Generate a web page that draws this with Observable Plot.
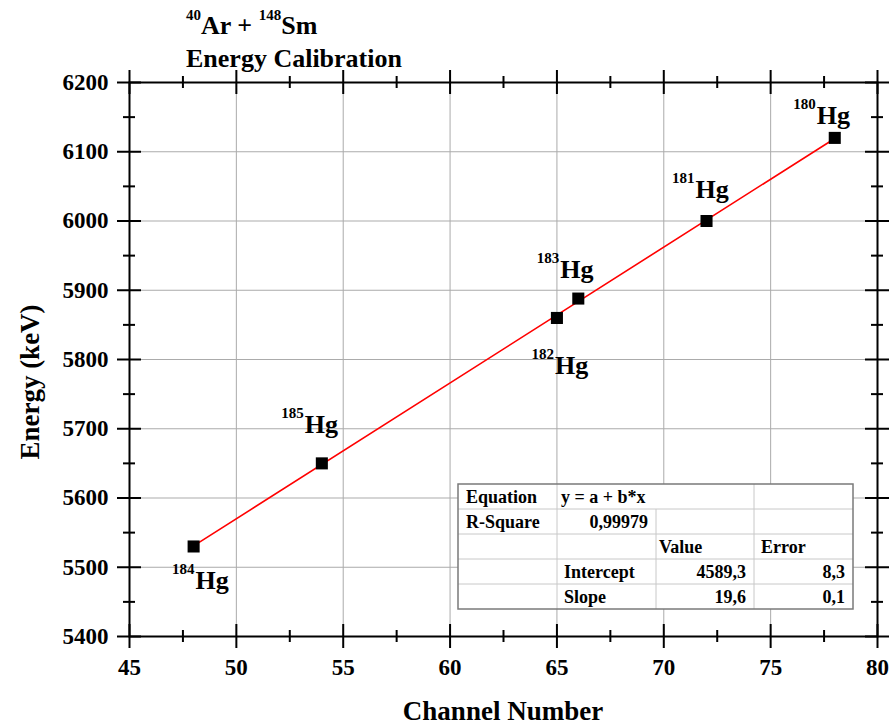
<!DOCTYPE html>
<html>
<head>
<meta charset="utf-8">
<script src="https://cdn.jsdelivr.net/npm/d3@7"></script>
<script src="https://cdn.jsdelivr.net/npm/@observablehq/plot@0.6"></script>
<style>
  html, body { margin: 0; padding: 0; background: #fff; }
  #chart { width: 892px; height: 725px; }
</style>
</head>
<body>
<div id="chart"></div>
<script>
// ---- data ----
const channels = [48, 54, 65, 66, 72, 78];
const energies = [5530, 5650, 5860, 5888, 6000, 6120];
const masses   = [184, 185, 182, 183, 181, 180];
const element  = "Hg";

const xMajor = [45, 50, 55, 60, 65, 70, 75, 80];
const xMinor = [47.5, 52.5, 57.5, 62.5, 67.5, 72.5, 77.5];
const yMajor = [5400, 5500, 5600, 5700, 5800, 5900, 6000, 6100, 6200];
const yMinor = [5450, 5550, 5650, 5750, 5850, 5950, 6050, 6150];

const titleLine1 = [["40", true], ["Ar + ", false], ["148", true], ["Sm", false]];
const titleLine2 = "Energy Calibration";
const xLabel = "Channel Number";
const yLabel = "Energy (keV)";

const fitTable = [
  ["Equation", "y = a + b*x", "", ""],
  ["R-Square", "0,99979", "", ""],
  ["", "", "Value", "Error"],
  ["", "Intercept", "4589,3", "8,3"],
  ["", "Slope", "19,6", "0,1"]
];

// ---- layout/style (not data) ----
const W = 892, H = 725;
const M = {top: 82, right: 15, bottom: 89, left: 129};
const FONT = "'Liberation Serif', 'Times New Roman', serif";
const labelOffset = {180: [-18, -14], 181: [-11, -23], 183: [-18, -21], 182: [-2, 56], 185: [-17, -30], 184: [2, 43]};

const data = channels.map((c, i) => ({channel: c, energy: energies[i], mass: masses[i]}));

const labelMarks = [];
for (const d of data) {
  const [dx, dy] = labelOffset[d.mass];
  labelMarks.push(Plot.text([d], {x: "channel", y: "energy", text: () => element,
    dx, dy, textAnchor: "start", lineAnchor: "bottom", fontSize: 26, fill: "black"}));
  labelMarks.push(Plot.text([d], {x: "channel", y: "energy", text: (r) => String(r.mass),
    dx: dx - 1, dy: dy - 15, textAnchor: "end", lineAnchor: "bottom", fontSize: 15, fill: "black"}));
}

const tickStyle = {stroke: "black", strokeWidth: 2};
const chart = Plot.plot({
  width: W, height: H,
  marginTop: M.top, marginRight: M.right, marginBottom: M.bottom, marginLeft: M.left,
  style: {fontFamily: FONT, fontWeight: "bold", background: "white", overflow: "visible"},
  x: {domain: [45, 80]},
  y: {domain: [5400, 6200]},
  marks: [
    Plot.ruleX(xMajor, {x: d => d, stroke: "#ababab", strokeWidth: 1}),
    Plot.ruleY(yMajor, {y: d => d, stroke: "#ababab", strokeWidth: 1}),
    Plot.frame({stroke: "black", strokeWidth: 2}),
    Plot.linearRegressionY(data, {x: "channel", y: "energy", stroke: "#ff0000", strokeWidth: 1.6, ci: 0}),
    Plot.dot(data, {x: "channel", y: "energy", symbol: "square", r: 6.8, fill: "black", stroke: "none"}),
    ...labelMarks,
    // ticks crossing the frame on all four sides
    Plot.ruleX(xMajor, {x: d => d, y1: 5400, y2: 5400, insetTop: -12, insetBottom: -12, ...tickStyle}),
    Plot.ruleX(xMinor, {x: d => d, y1: 5400, y2: 5400, insetTop: -6, insetBottom: -6, ...tickStyle}),
    Plot.ruleX(xMajor, {x: d => d, y1: 6200, y2: 6200, insetTop: -12, insetBottom: -12, ...tickStyle}),
    Plot.ruleX(xMinor, {x: d => d, y1: 6200, y2: 6200, insetTop: -6, insetBottom: -6, ...tickStyle}),
    Plot.ruleY(yMajor, {y: d => d, x1: 45, x2: 45, insetLeft: -12, insetRight: -12, ...tickStyle}),
    Plot.ruleY(yMinor, {y: d => d, x1: 45, x2: 45, insetLeft: -6, insetRight: -6, ...tickStyle}),
    Plot.ruleY(yMajor, {y: d => d, x1: 80, x2: 80, insetLeft: -12, insetRight: -12, ...tickStyle}),
    Plot.ruleY(yMinor, {y: d => d, x1: 80, x2: 80, insetLeft: -6, insetRight: -6, ...tickStyle}),
    Plot.axisX({ticks: xMajor, tickSize: 0, tickPadding: 22, label: null, fontSize: 23, tickFormat: d => String(d)}),
    Plot.axisY({ticks: yMajor, tickSize: 0, tickPadding: 21, label: null, fontSize: 23, tickFormat: d => String(d)})
  ]
});
document.getElementById("chart").appendChild(chart);

// ---- annotations: title, axis titles, fit table ----
const svg = d3.select(chart);
const t1 = svg.append("text").attr("x", 186).attr("y", 34).attr("text-anchor", "start")
  .attr("font-family", FONT).attr("font-weight", "bold").attr("fill", "black");
for (const [txt, sup] of titleLine1) {
  t1.append("tspan").attr("y", sup ? 20 : 34).attr("font-size", sup ? 15 : 26).text(txt);
}
svg.append("text").attr("x", 186).attr("y", 67).attr("text-anchor", "start")
  .attr("font-family", FONT).attr("font-weight", "bold").attr("font-size", 26).attr("fill", "black")
  .text(titleLine2);
svg.append("text").attr("x", (M.left + W - M.right) / 2).attr("y", 720)
  .attr("text-anchor", "middle").attr("font-family", FONT).attr("font-weight", "bold")
  .attr("font-size", 27).attr("fill", "black").text(xLabel);
svg.append("text").attr("transform", "translate(39,382) rotate(-90)")
  .attr("text-anchor", "middle").attr("font-family", FONT).attr("font-weight", "bold")
  .attr("font-size", 27).attr("fill", "black").text(yLabel);

// table
const tb = {x: 458, y: 484, rowH: 25, cols: [458, 557, 656, 754, 853]};
const nRows = fitTable.length;
const g = svg.append("g").attr("font-family", FONT).attr("font-weight", "bold").attr("font-size", 18);
g.append("rect").attr("x", tb.x).attr("y", tb.y).attr("width", tb.cols[4] - tb.cols[0])
  .attr("height", nRows * tb.rowH).attr("fill", "white");
for (let r = 1; r < nRows; r++) {
  g.append("line").attr("x1", tb.cols[0]).attr("x2", tb.cols[4])
    .attr("y1", tb.y + r * tb.rowH).attr("y2", tb.y + r * tb.rowH).attr("stroke", "#c8c8c8");
}
for (let c = 1; c < 4; c++) {
  const y0 = (c === 2) ? tb.y + tb.rowH : tb.y;
  g.append("line").attr("x1", tb.cols[c]).attr("x2", tb.cols[c])
    .attr("y1", y0).attr("y2", tb.y + nRows * tb.rowH).attr("stroke", "#c8c8c8");
}
g.append("rect").attr("x", tb.x).attr("y", tb.y).attr("width", tb.cols[4] - tb.cols[0])
  .attr("height", nRows * tb.rowH).attr("fill", "none").attr("stroke", "#7a7a7a").attr("stroke-width", 1.5);
const isNum = s => /^[0-9]/.test(s);
fitTable.forEach((row, r) => {
  row.forEach((cell, c) => {
    if (!cell) return;
    const right = isNum(cell);
    const pad = c === 0 ? 8 : (c === 1 && r === 0 ? 4 : (c === 2 && r === 2 ? 3 : 7));
    g.append("text")
      .attr("x", right ? tb.cols[c + 1] - 8 : tb.cols[c] + pad)
      .attr("y", tb.y + r * tb.rowH + 18.5)
      .attr("text-anchor", right ? "end" : "start")
      .attr("fill", "black").text(cell);
  });
});
</script>
</body>
</html>
